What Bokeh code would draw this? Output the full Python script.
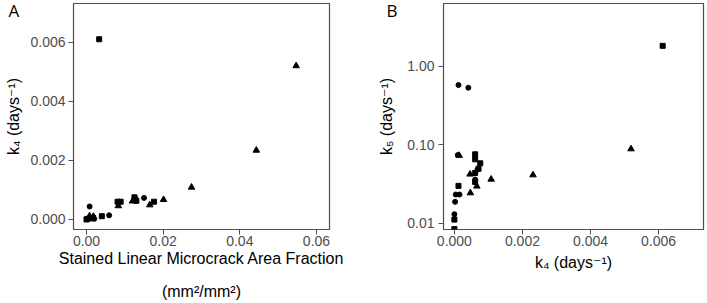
from bokeh.plotting import figure
from bokeh.models import FixedTicker, PrintfTickFormatter, Range1d, LinearAxis
from bokeh.layouts import row
from bokeh.embed import file_html
from bokeh.resources import INLINE

# ---------------- Panel A: microcrack area fraction vs k4 ----------------
a_sq_x = [0.0033, 0.0176, 0.0125, 0.0127, 0.0130, 0.0081, 0.0089, 0.0040, 0.0000, 0.0002, 0.0017]
a_sq_y = [0.0061, 0.00060, 0.00075, 0.00068, 0.00063, 0.00060, 0.00060, 0.00011, 0.00000, 0.00002, 0.00005]
a_ci_x = [0.0150, 0.0059, 0.0008, 0.0005, 0.0012, 0.0020]
a_ci_y = [0.00073, 0.00014, 0.00044, 0.00004, 0.00003, 0.00002]
a_tr_x = [0.0547, 0.0443, 0.0274, 0.0201, 0.0165, 0.0120, 0.0083, 0.0008, 0.0018]
a_tr_y = [0.0052, 0.00234, 0.00109, 0.00067, 0.00049, 0.00062, 0.00046, 0.00012, 0.00010]
a_xticks = [0.0, 0.02, 0.04, 0.06]
a_yticks = [0.0, 0.002, 0.004, 0.006]

# ---------------- Panel B: k4 vs k5 ----------------
b_sq_x = [0.00612, 0.00061, 0.00061, 0.00076, 0.00071, 0.00061, 0.00061, 0.00012, 0.0, 0.0]
b_sq_y = [1.83, 0.0756, 0.0653, 0.058, 0.0496, 0.0437, 0.0336, 0.0299, 0.0111, 0.0084]
b_ci_x = [0.00012, 0.00041, 0.00010, 0.00068, 0.00061, 0.00004, 0.00015, 0.00002, 0.0]
b_ci_y = [0.578, 0.535, 0.074, 0.0483, 0.0360, 0.0232, 0.0232, 0.0187, 0.0130]
b_tr_x = [0.00519, 0.00231, 0.00108, 0.00014, 0.00046, 0.00066, 0.00047]
b_tr_y = [0.0885, 0.0412, 0.0363, 0.073, 0.0421, 0.0296, 0.0243]
b_xticks = [0.0, 0.002, 0.004, 0.006]
b_yticks = [0.01, 0.1, 1.0]

FONT = "Liberation Sans"
LABEL_FONT = "Liberation Sans, DejaVu Sans"
GREY = "#4d4d4d"


def style(p):
    p.outline_line_color = GREY
    p.outline_line_width = 1.2
    p.outline_line_alpha = 1.0
    p.grid.visible = False
    p.background_fill_color = "white"
    p.border_fill_color = "white"
    for ax in p.axis:
        ax.axis_line_color = None
        ax.major_tick_line_color = GREY
        ax.major_tick_out = 5
        ax.major_tick_in = 0
        ax.minor_tick_line_color = None
        ax.major_label_standoff = 3
        ax.major_label_text_font = FONT
        ax.major_label_text_font_size = "14px"
        ax.major_label_text_color = GREY
        ax.axis_label_text_font = LABEL_FONT
        ax.axis_label_text_font_size = "16px"
        ax.axis_label_text_font_style = "normal"
        ax.axis_label_text_color = "black"


def panel_letter(p, letter, offset):
    p.title.text = letter
    p.title.align = "left"
    p.title.vertical_align = "bottom"
    p.title.offset = offset
    p.title.standoff = -37
    p.title.text_font = "Open Sans"
    p.title.text_font_size = "17px"
    p.title.text_font_style = "normal"
    p.title.text_color = "black"


def markers(p, sx, sy, cx, cy, tx, ty):
    p.scatter(sx, sy, marker="square", size=5, color="black")
    p.scatter(cx, cy, marker="circle", size=5, color="black")
    p.scatter(tx, ty, marker="triangle", size=6.5, color="black")


# Panel A
pa = figure(width=360, height=303, output_backend="svg", toolbar_location=None,
            x_range=Range1d(-0.0034, 0.0634), y_range=Range1d(-0.00034, 0.00731),
            min_border_left=73, min_border_right=31, min_border_top=3, min_border_bottom=74)
markers(pa, a_sq_x, a_sq_y, a_ci_x, a_ci_y, a_tr_x, a_tr_y)
style(pa)
pa.xaxis.ticker = FixedTicker(ticks=a_xticks)
pa.xaxis.formatter = PrintfTickFormatter(format="%.2f")
pa.xaxis.major_label_standoff = 1
pa.yaxis.ticker = FixedTicker(ticks=a_yticks)
pa.yaxis.formatter = PrintfTickFormatter(format="%.3f")
pa.xaxis.axis_label = "Stained Linear Microcrack Area Fraction"
pa.xaxis.axis_label_text_font = FONT
pa.xaxis.axis_label_standoff = 1
pa.yaxis.axis_label = "k\u2084 (days\u207b\u00b9)"
pa.yaxis.axis_label_standoff = 5
unit_axis = LinearAxis(ticker=FixedTicker(ticks=[]), axis_label="(mm\u00b2/mm\u00b2)",
                       axis_line_color=None, major_tick_line_color=None,
                       minor_tick_line_color=None, major_tick_out=0, major_tick_in=0,
                       major_label_standoff=0, axis_label_standoff=13,
                       axis_label_text_font=FONT, axis_label_text_font_size="16px",
                       axis_label_text_font_style="normal", axis_label_text_color="black")
pa.add_layout(unit_axis, "below")
panel_letter(pa, "A", -65)

# Panel B
pb = figure(width=347, height=303, output_backend="svg", toolbar_location=None,
            y_axis_type="log",
            x_range=Range1d(-0.00032, 0.00732), y_range=Range1d(0.0083, 6.35),
            min_border_left=83, min_border_right=4, min_border_top=3, min_border_bottom=74)
markers(pb, b_sq_x, b_sq_y, b_ci_x, b_ci_y, b_tr_x, b_tr_y)
style(pb)
pb.xaxis.ticker = FixedTicker(ticks=b_xticks)
pb.xaxis.formatter = PrintfTickFormatter(format="%.3f")
pb.xaxis.major_label_standoff = 1
pb.yaxis.ticker = FixedTicker(ticks=b_yticks)
pb.yaxis.formatter = PrintfTickFormatter(format="%.2f")
pb.yaxis.major_label_standoff = 4
pb.xaxis.axis_label = "k\u2084 (days\u207b\u00b9)"
pb.xaxis.axis_label_standoff = 5
pb.yaxis.axis_label = "k\u2085 (days\u207b\u00b9)"
pb.yaxis.axis_label_standoff = 9
panel_letter(pb, "B", -57)

layout = row(pa, pb)
open("out.html", "w").write(file_html(layout, INLINE))
